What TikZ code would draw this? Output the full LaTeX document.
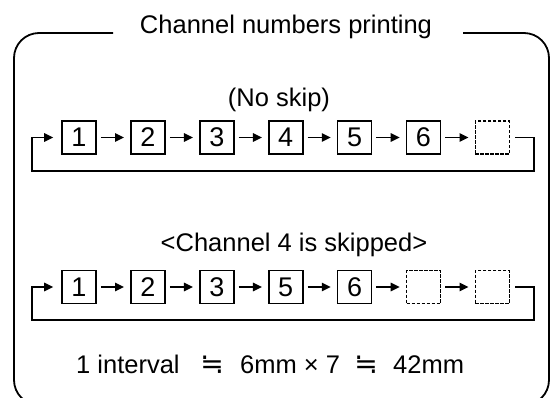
\documentclass[tikz,border=0pt]{standalone}
\usepackage{fontspec}
\setmainfont{Liberation Sans}
\newfontfamily\djv{DejaVu Sans}
\usetikzlibrary{arrows.meta}
\begin{document}
\begin{tikzpicture}[x=1pt,y=-1pt,
  chbox/.style={draw,line width=1.7pt,minimum width=34pt,minimum height=33pt,inner sep=0pt,font=\fontsize{27}{30}\selectfont},
  emptybox/.style={chbox,dash pattern=on 3.5pt off 1.5pt},
  tip/.style={-{Triangle[length=9pt,width=8.5pt]}},
  flow/.style={line width=1.5pt,tip,shorten <=4pt,shorten >=6pt},
  loopline/.style={line width=1.5pt,tip,shorten >=8pt},
  txt/.style={font=\fontsize{25.5}{28}\selectfont,inner sep=0pt,anchor=base},
  approx/.style={font=\djv\fontsize{28}{30}\selectfont,inner sep=0pt,anchor=base}]
\useasboundingbox (0,0) rectangle (552,397);
\begin{scope}
\clip (0,0) rectangle (552,397);
\draw[line width=1.8pt,rounded corners=25pt] (113,33) -- (14,33) -- (14,405) -- (549,405) -- (549,33) -- (463,33);
\end{scope}
\node[txt] (title) at (286,33) {Channel numbers printing};
\node[txt] (noskip) at (279,106) {(No skip)};
\node[txt] (skipped) at (294,251) {<Channel 4 is skipped>};
% row 1
\node[chbox] (a1) at (79,137.5) {1};
\node[chbox] (a2) at (147.9,137.5) {2};
\node[chbox] (a3) at (216.8,137.5) {3};
\node[chbox] (a4) at (285.7,137.5) {4};
\node[chbox] (a5) at (354.6,137.5) {5};
\node[chbox] (a6) at (423.5,137.5) {6};
\node[emptybox] (a7) at (492.4,137.5) {};
\draw[flow] (a1) -- (a2);
\draw[flow] (a2) -- (a3);
\draw[flow] (a3) -- (a4);
\draw[flow] (a4) -- (a5);
\draw[flow] (a5) -- (a6);
\draw[flow] (a6) -- (a7);
\coordinate (r1) at (534,171);
\coordinate (l1) at (32,171);
\draw[loopline] ([xshift=5pt]a7.east) -| (r1) -- (l1) |- (a1.west);
% row 2
\node[chbox] (b1) at (79,287) {1};
\node[chbox] (b2) at (147.9,287) {2};
\node[chbox] (b3) at (216.8,287) {3};
\node[chbox] (b4) at (285.7,287) {5};
\node[chbox] (b5) at (354.6,287) {6};
\node[emptybox] (b6) at (423.5,287) {};
\node[emptybox] (b7) at (492.4,287) {};
\draw[flow] (b1) -- (b2);
\draw[flow] (b2) -- (b3);
\draw[flow] (b3) -- (b4);
\draw[flow] (b4) -- (b5);
\draw[flow] (b5) -- (b6);
\draw[flow] (b6) -- (b7);
\coordinate (r2) at (534,320);
\coordinate (l2) at (32,320);
\draw[loopline] ([xshift=5pt]b7.east) -| (r2) -- (l2) |- (b1.west);
% bottom note
\node[txt,anchor=base west] (n1) at (76,373) {1 interval};
\node[approx] (n2) at (212,373) {≒};
\node[txt,anchor=base west] (n3) at (240,373) {6mm × 7};
\node[approx] (n4) at (366,373) {≒};
\node[txt,anchor=base west] (n5) at (393,373) {42mm};
\end{tikzpicture}
\end{document}
